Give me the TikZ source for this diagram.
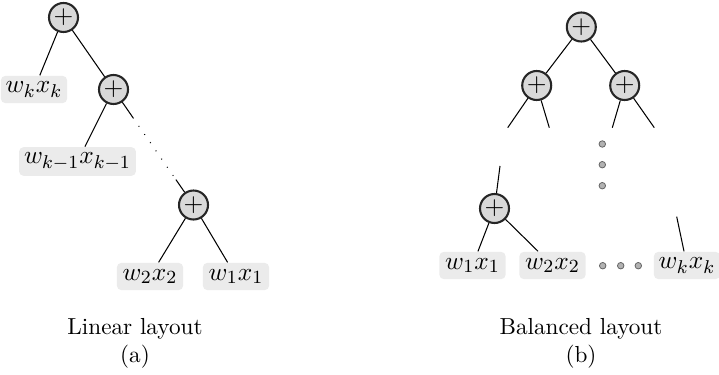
\documentclass[tikz,border=0pt]{standalone}
\usetikzlibrary{calc}
\begin{document}
\begin{tikzpicture}[x=0.431pt,y=-0.431pt,
  plus/.style={circle,draw=black!85,line width=0.9pt,fill=gray!30,minimum size=12.5pt,inner sep=0pt,font=\fontsize{10.95}{13}\selectfont},
  term/.style={rounded corners=2pt,fill=black!8,minimum height=11.8pt,minimum width=28.6pt,inner sep=1pt,font=\fontsize{10.95}{13}\selectfont},
  edge/.style={line width=0.45pt},
  gdot/.style={circle,fill=gray!60,draw=black!60,line width=0.35pt,minimum size=2.8pt,inner sep=0pt},
  captext/.style={anchor=base,inner sep=0pt}]
\useasboundingbox (0,0) rectangle (719,375);
% ---------- linear layout ----------
\node[plus] (a1) at (63.5,17.5) {$+$};
\node[term] (akx) at (34,89.5) {$w_kx_k$};
\node[plus] (a2) at (113.5,89.5) {$+$};
\node[term,minimum width=50.4pt,minimum height=12.4pt] (akm1) at (77.5,161.5) {$w_{k-1}x_{k-1}$};
\node[plus] (a3) at (193.5,205) {$+$};
\node[term] (l2) at (150,276.5) {$w_2x_2$};
\node[term] (l1) at (236,276.5) {$w_1x_1$};
\draw[edge] (a1) -- (akx);
\draw[edge] (a1) -- (a2);
\draw[edge] (a2) -- (akm1);
\coordinate (d1) at ($(a2)!0.244!(a3)$);
\coordinate (d2) at ($(a2)!0.78!(a3)$);
\draw[edge] (a2) -- (d1);
\draw[edge,dash pattern=on 0.4pt off 3.9pt] (d1) -- (d2);
\draw[edge] (d2) -- (a3);
\draw[edge] (a3) -- (l2);
\draw[edge] (a3) -- (l1);
\node[captext] (capa) at (135,334.5) {Linear layout};
\node[captext] (suba) at (135,362.5) {(a)};
% ---------- balanced layout ----------
\node[plus] (b1) at (581.3,27) {$+$};
\node[plus] (b2) at (536.7,85.5) {$+$};
\node[plus] (b3) at (624.7,85.5) {$+$};
\draw[edge] (b1) -- (b2);
\draw[edge] (b1) -- (b3);
\coordinate (e1) at (507.7,127.7);
\coordinate (e2) at (549.3,127.7);
\coordinate (e3) at (612.3,127.7);
\coordinate (e4) at (654.3,127.7);
\draw[edge] (b2) -- (e1);
\draw[edge] (b2) -- (e2);
\draw[edge] (b3) -- (e3);
\draw[edge] (b3) -- (e4);
\node[gdot] (v1) at (602.3,144) {};
\node[gdot] (v2) at (602.3,164.7) {};
\node[gdot] (v3) at (602.3,185.7) {};
\coordinate (e5) at (500,166);
\node[plus] (b4) at (494.5,208.5) {$+$};
\draw[edge] (e5) -- (b4);
\node[term] (r1) at (472.5,265.5) {$w_1x_1$};
\node[term] (r2) at (552.5,265.5) {$w_2x_2$};
\draw[edge] (b4) -- (r1);
\draw[edge] (b4) -- (r2);
\node[gdot] (h1) at (602.7,265.7) {};
\node[gdot] (h2) at (620.7,265.7) {};
\node[gdot] (h3) at (638.3,265.7) {};
\node[term] (rk) at (687,265.5) {$w_kx_k$};
\coordinate (e6) at (676.7,216.7);
\draw[edge] (e6) -- (rk);
\node[captext] (capb) at (581,334.5) {Balanced layout};
\node[captext] (subb) at (581,362.5) {(b)};
\end{tikzpicture}
\end{document}
